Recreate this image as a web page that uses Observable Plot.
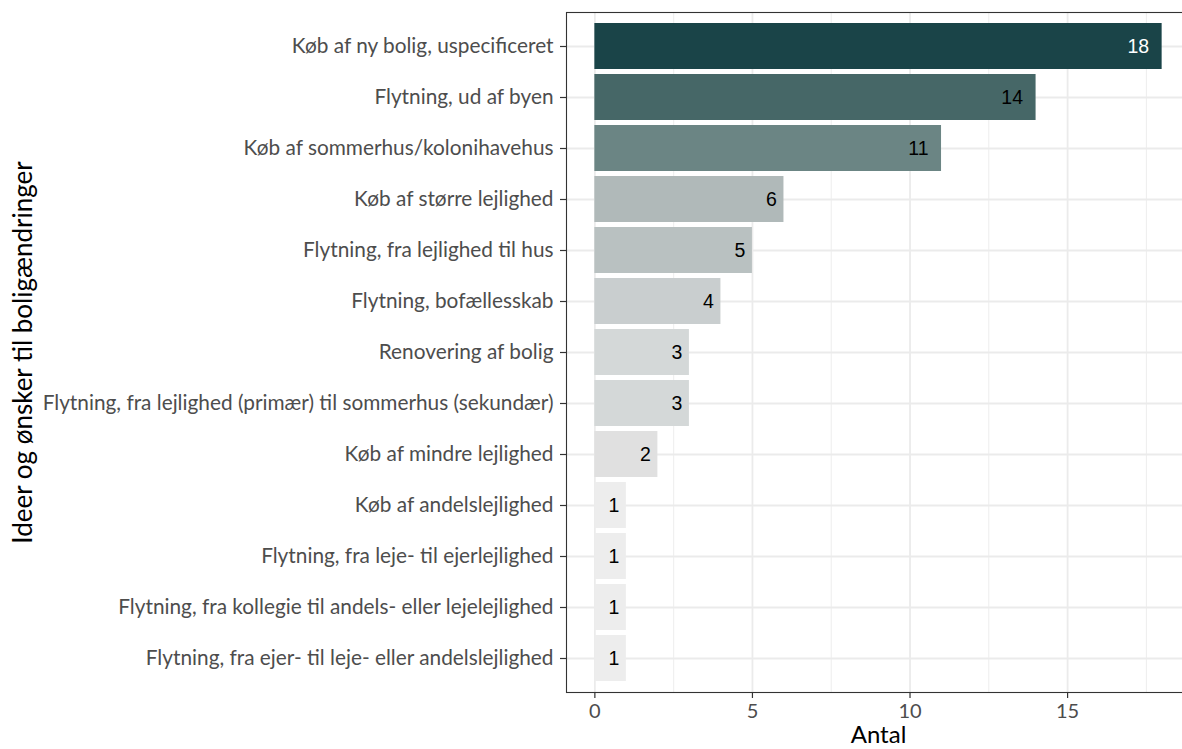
<!DOCTYPE html>
<html>
<head>
<meta charset="utf-8">
<script src="https://cdn.jsdelivr.net/npm/d3@7"></script>
<script src="https://cdn.jsdelivr.net/npm/@observablehq/plot@0.6"></script>
<style>
  html, body { margin: 0; padding: 0; background: #fff; }
</style>
</head>
<body>
<div id="chart"></div>
<script>
const categories = [
  "Køb af ny bolig, uspecificeret",
  "Flytning, ud af byen",
  "Køb af sommerhus/kolonihavehus",
  "Køb af større lejlighed",
  "Flytning, fra lejlighed til hus",
  "Flytning, bofællesskab",
  "Renovering af bolig",
  "Flytning, fra lejlighed (primær) til sommerhus (sekundær)",
  "Køb af mindre lejlighed",
  "Køb af andelslejlighed",
  "Flytning, fra leje- til ejerlejlighed",
  "Flytning, fra kollegie til andels- eller lejelejlighed",
  "Flytning, fra ejer- til leje- eller andelslejlighed"
];
const counts = [18, 14, 11, 6, 5, 4, 3, 3, 2, 1, 1, 1, 1];
const colorValues = [18, 14, 11, 6, 5, 4, 3, 2, 1];
const colorRange = ["#1a4448", "#466767", "#6b8584", "#b0b9b9", "#b9c1c1", "#c9cecf", "#d4d8d8", "#e0e0e0", "#ededed"];
const xTicks = [0, 5, 10, 15];
const xMinorTicks = [2.5, 7.5, 12.5, 17.5];
const xTitle = "Antal";
const yTitle = "Ideer og ønsker til boligændringer";

const data = categories.map((c, i) => ({category: c, n: counts[i]}));
const colorOf = new Map(colorValues.map((v, i) => [v, colorRange[i]]));
const labelFont = "'Liberation Sans', Arial, sans-serif";

const chart = Plot.plot({
  width: 1182,
  height: 749,
  marginLeft: 566,
  marginRight: -8,
  marginTop: 12,
  marginBottom: 57,
  style: {fontFamily: "Lato, sans-serif", fontSize: "21px", overflow: "hidden", background: "#fff"},
  x: {domain: [-0.9, 18.9]},
  y: {domain: categories, paddingInner: 0.1, paddingOuter: 0.15},
  marks: [
    Plot.ruleX(xMinorTicks, {stroke: "#ebebeb", strokeWidth: 0.9}),
    Plot.ruleX(xTicks, {stroke: "#ebebeb", strokeWidth: 1.8}),
    Plot.ruleY(categories, {y: d => d, stroke: "#ebebeb", strokeWidth: 1.8}),
    Plot.barX(data, {x: "n", y: "category", fill: d => colorOf.get(d.n)}),
    Plot.text(data.filter(d => d.n >= 10), {
      x: "n", y: "category", text: d => String(d.n), textAnchor: "end", dx: -13,
      fill: d => d.n === 18 ? "#ffffff" : "#000000", fontFamily: labelFont, fontSize: 19.5
    }),
    Plot.text(data.filter(d => d.n < 10), {
      x: "n", y: "category", text: d => String(d.n), textAnchor: "end", dx: -7,
      fill: "#000000", fontFamily: labelFont, fontSize: 19.5
    }),
    Plot.frame({stroke: "#333333", strokeWidth: 1.1}),
    Plot.axisY({tickSize: 6, tickPadding: 7, fontSize: 20.8, stroke: "#333333", strokeWidth: 1.2, fill: "#4d4d4d", label: null}),
    Plot.axisX(xTicks, {tickSize: 6, tickPadding: 5, fontSize: 20, stroke: "#333333", strokeWidth: 1.2, fill: "#4d4d4d", label: null}),
    Plot.text([xTitle], {frameAnchor: "bottom", lineAnchor: "bottom", dy: 50, fontSize: 24, fill: "#000"}),
    Plot.text([yTitle], {frameAnchor: "left", textAnchor: "middle", lineAnchor: "middle", rotate: -90, dx: -543, fontSize: 26, fill: "#000"})
  ]
});
document.getElementById("chart").appendChild(chart);
</script>
</body>
</html>
